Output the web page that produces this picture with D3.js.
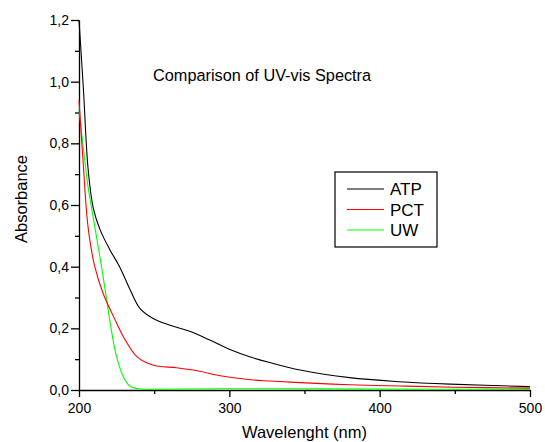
<!DOCTYPE html>
<meta charset="utf-8">
<style>
body { margin: 0; background: #fff; }
text { font-family: Arial, "Liberation Sans", sans-serif; fill: #000; }
</style>
<body>
<script src="https://d3js.org/d3.v7.min.js"></script>
<script>
// spectra
var atpWl  = [200, 203, 206, 209.5, 214, 220.5, 227, 234, 240.5, 249, 260, 274, 287, 300, 314, 327, 347, 380, 413, 447, 500];
var atpAbs = [1.2, 0.97, 0.72, 0.59, 0.52, 0.455, 0.40, 0.325, 0.265, 0.233, 0.211, 0.19, 0.162, 0.132, 0.107, 0.089, 0.065, 0.04, 0.027, 0.019, 0.011];
var pctWl  = [200, 203, 206, 210.5, 216, 223, 229.5, 238.5, 249, 265, 278, 294, 314, 327, 347, 380, 413, 450, 500];
var pctAbs = [0.94, 0.72, 0.53, 0.40, 0.314, 0.238, 0.173, 0.108, 0.081, 0.072, 0.063, 0.046, 0.033, 0.029, 0.024, 0.017, 0.013, 0.009, 0.006];
var uwWl   = [200, 203, 206, 210.5, 215, 218.5, 221.5, 225, 229.5, 234, 240.5, 250, 300, 400, 500];
var uwAbs  = [0.91, 0.78, 0.66, 0.53, 0.40, 0.29, 0.195, 0.108, 0.043, 0.012, 0.003, 0.002, 0.004, 0.003, 0.002];

var seriesNames = ["ATP", "PCT", "UW"];
var seriesColors = ["#000000", "#ff0000", "#00ff00"];
var xTicks = [200, 300, 400, 500];
var xMinor = [250, 350, 450];
var yTicks = [0, 0.2, 0.4, 0.6, 0.8, 1.0, 1.2];
var yMinor = [0.1, 0.3, 0.5, 0.7, 0.9, 1.1];

var width = 545, height = 442;
var margin = {top: 20, right: 15, bottom: 52, left: 79};

var x = d3.scaleLinear().domain([200, 500]).range([margin.left, width - margin.right]);
var y = d3.scaleLinear().domain([0, 1.2]).range([height - margin.bottom, margin.top]);

var svg = d3.select("body").append("svg")
    .attr("width", width)
    .attr("height", height);

var fmt = function(d) { return d3.format(".1f")(d).replace(".", ","); };

// minor ticks first, then the major axes on top
svg.append("g")
    .attr("transform", "translate(0," + y(0) + ")")
    .call(d3.axisBottom(x).tickValues(xMinor).tickSize(4).tickFormat(""))
    .call(function(g) { g.select(".domain").remove(); });
svg.append("g")
    .attr("transform", "translate(" + x(200) + ",0)")
    .call(d3.axisLeft(y).tickValues(yMinor).tickSize(4).tickFormat(""))
    .call(function(g) { g.select(".domain").remove(); });

var xAxis = svg.append("g")
    .attr("transform", "translate(0," + y(0) + ")")
    .call(d3.axisBottom(x).tickValues(xTicks).tickSize(7).tickSizeOuter(0).tickPadding(6).tickFormat(d3.format("d")));
var yAxis = svg.append("g")
    .attr("transform", "translate(" + x(200) + ",0)")
    .call(d3.axisLeft(y).tickValues(yTicks).tickSize(8).tickSizeOuter(0).tickPadding(2).tickFormat(fmt));

svg.selectAll(".tick text").style("font-size", "14px").style("font-family", "Arial, 'Liberation Sans', sans-serif");
svg.selectAll(".domain, .tick line").attr("stroke", "#000").attr("stroke-width", 1.3);

var line = d3.line()
    .x(function(d) { return x(d[0]); })
    .y(function(d) { return y(d[1]); })
    .curve(d3.curveCatmullRom.alpha(0.5));

var series = [d3.zip(atpWl, atpAbs), d3.zip(pctWl, pctAbs), d3.zip(uwWl, uwAbs)];

// draw UW first so the black and red sit above it where they meet
[2, 1, 0].forEach(function(i) {
  svg.append("path")
      .datum(series[i])
      .attr("fill", "none")
      .attr("stroke", seriesColors[i])
      .attr("stroke-width", 1.1)
      .attr("d", line);
});

svg.append("text")
    .attr("x", 153)
    .attr("y", 81)
    .style("font-size", "16.3px")
    .text("Comparison of UV-vis Spectra");

svg.append("text")
    .attr("x", (x(200) + x(500)) / 2)
    .attr("y", 438)
    .attr("text-anchor", "middle")
    .style("font-size", "16.5px")
    .text("Wavelenght (nm)");

svg.append("text")
    .attr("transform", "translate(27,199) rotate(-90)")
    .attr("text-anchor", "middle")
    .style("font-size", "16.5px")
    .text("Absorbance");

// legend
var legend = svg.append("g").attr("transform", "translate(335,172)");
legend.append("rect")
    .attr("width", 102)
    .attr("height", 75)
    .attr("fill", "#fff")
    .attr("stroke", "#000")
    .attr("stroke-width", 1.2);
seriesNames.forEach(function(name, i) {
  var row = legend.append("g").attr("transform", "translate(0," + (17 + i * 20.5) + ")");
  row.append("line")
      .attr("x1", 12).attr("x2", 49)
      .attr("stroke", seriesColors[i])
      .attr("stroke-width", 1);
  row.append("text")
      .attr("x", 55)
      .attr("y", 6)
      .style("font-size", "17px")
      .text(name);
});
</script>
</body>
